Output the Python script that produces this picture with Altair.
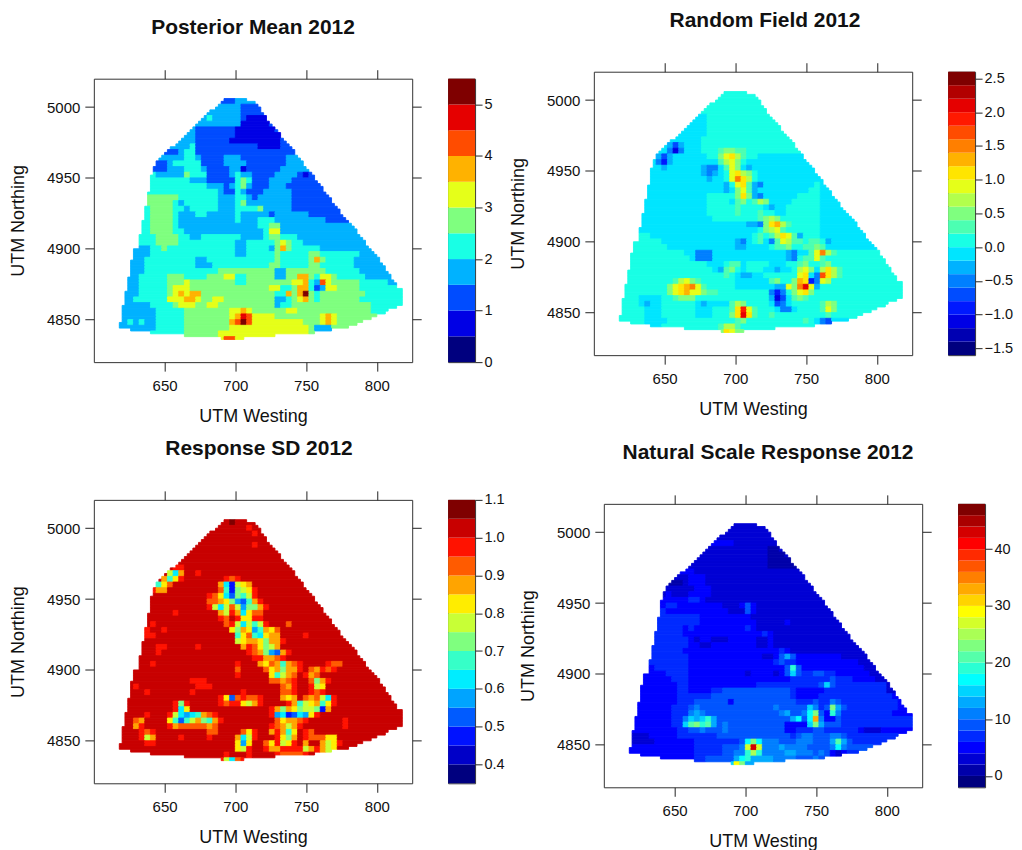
import altair as alt
import pandas as pd

alt.data_transformers.disable_max_rows()

# plot region cell sizes and origin, in UTM units
X0, Y0, FINE = 616, 5006, 2

# outline of the surveyed area: first and last fine column of each fine row
MASK_LEFT = [38,37,36,35,33,32,31,30,29,28,27,26,25,24,23,22,21,19,18,17,16,15,14,14,13,13,13,12,12,12,12,12,12,11,11,11,11,11,10,10,10,10,10,9,9,9,9,9,8,8,8,8,8,6,6,6,6,5,5,5,5,5,5,4,4,4,4,4,3,3,3,3,3,2,2,2,2,2,2,1,1,5,12,24,37]
MASK_RIGHT = [45,48,49,50,50,51,52,52,53,54,55,56,57,57,58,59,60,61,62,62,63,64,65,65,66,67,68,69,69,70,71,72,72,73,74,75,75,76,77,78,78,79,80,81,82,83,84,84,85,86,87,87,88,89,90,91,92,92,93,94,94,95,96,96,97,98,98,100,100,100,100,100,100,98,95,94,91,89,86,84,81,75,69,55,44]

# each row: "column:level" breaks along a coarse row
MEAN_ROWS = [
"0:2 21:3","0:3 22:2","0:3 22:2","0:3 16:4 17:3 22:2 23:1 27:2","0:3 22:1 27:2","0:3 14:2 21:1 28:2","0:3 14:2 21:1 29:2","0:3 14:2 20:1 29:2",
"0:3 13:4 14:2 25:1 29:2","0:2 11:3 12:4 14:2 31:2","0:3 12:4 14:3 15:2 19:3 22:2 30:3","0:2 9:3 10:4 15:2 19:3 23:2 30:3","0:2 9:3 12:4 15:3 16:2 20:3 22:1 23:2 29:3",
"0:4 7:3 12:5 13:4 16:2 20:3 21:4 22:3 24:2 28:3 32:2 33:1 34:2","0:4 13:3 16:2 21:4 22:5 23:4 24:2 27:3 31:2","0:4 16:3 19:2 20:3 21:4 22:5 23:3 24:2 27:3 30:2",
"0:4 18:3 19:2 21:4 22:3 23:2 26:3 31:2","0:5 11:4 18:3 21:4 23:3 24:2 25:3 31:2","0:5 10:4 11:3 12:4 18:3 21:4 22:5 23:3 31:2","0:4 6:5 10:4 12:3 13:4 18:3 21:4 25:5 26:3 31:2",
"0:4 6:5 10:4 11:3 14:4 16:3 21:4 22:3 27:2 28:3 34:2","0:4 6:5 10:4 11:3 21:4 22:3 25:4 28:3 37:2","0:4 6:5 10:4 11:3 25:4 27:5 29:3","0:4 6:5 10:4 12:3 26:4 27:6 29:3",
"0:4 7:5 11:4 13:3 15:4 22:3 26:4 27:5 29:4 32:3","0:4 7:5 11:4 21:3 23:4 28:5 29:6 30:5 31:4 33:3","0:3 6:4 8:5 9:4 21:3 23:4 27:3 28:5 29:7 30:5 31:4 36:3",
"0:3 6:4 21:3 23:4 27:4 28:5 29:4 34:5 36:4 43:3","0:3 5:4 14:3 16:4 28:5 29:4 34:5 35:7 36:5 37:4 42:3","0:3 5:4 14:3 17:4 27:5 29:4 34:5 36:4 42:3",
"0:3 5:4 18:5 28:3 30:5 37:4 43:3","0:3 4:4 9:5 12:4 16:5 19:6 21:4 23:5 28:3 30:5 32:7 34:5 35:4 36:6 38:5 39:4 44:3","0:3 4:4 9:5 12:6 13:5 21:4 23:5 31:6 33:7 34:4 35:3 36:8 37:6 38:5 43:4 48:3",
"0:3 4:4 9:5 10:6 13:5 27:6 29:4 31:5 32:7 34:4 35:2 36:3 37:6 39:5 43:4","0:3 4:4 9:5 10:6 11:7 12:6 13:7 15:5 28:4 30:7 31:5 32:7 33:a 34:5 35:4 36:5 44:4",
"0:3 3:4 9:6 12:7 14:6 15:5 17:6 19:5 28:3 30:4 31:5 32:6 33:7 34:5 35:4 36:5 43:4","0:3 6:4 10:5 11:6 14:5 16:6 18:5 28:3 29:4 31:5 45:4",
"0:3 7:4 12:5 20:6 22:7 23:6 24:5 30:6 32:5 45:4","0:3 7:4 12:5 20:6 21:7 22:9 23:8 24:6 25:6 28:5 36:6 37:7 38:6 39:5","0:3 2:4 3:3 4:4 5:3 7:4 12:5 20:7 21:8 22:a 23:8 24:6 33:5 36:6 37:7 38:6 39:5",
"0:3 7:4 12:5 20:6 34:5 35:3 38:5","0:4 12:5 18:6 27:6 34:5","0:6 19:8 21:6"]

FIELD_ROWS = [
"0:8","0:8","0:8","0:8","0:7 16:8","0:7 16:8","0:7 16:8","0:7 16:8","0:7 15:8","0:7 9:6 10:4 11:6 12:7 15:8",
"0:7 9:5 10:2 11:5 12:7 15:8 18:9 19:a 21:9 23:8","0:7 7:6 8:4 9:6 10:7 16:8 18:a 19:c 20:d 21:b 22:9 23:8 25:7","0:7 7:5 8:3 9:6 10:7 18:9 19:b 20:c 21:a 22:8 23:7",
"0:7 8:6 9:7 15:6 16:5 18:7 19:9 20:c 21:a 22:7 23:6 24:7","0:7 15:6 16:5 17:6 18:7 19:8 20:c 21:d 22:b 23:a 24:8 25:7","0:7 16:6 17:7 19:8 20:c 21:f 22:d 23:b 24:8 25:7",
"0:7 19:6 20:8 21:c 22:d 23:9 24:6 25:5 26:7 35:8 36:7","0:7 19:6 20:7 21:a 22:c 23:9 24:6 25:7 34:8 36:7","0:7 16:8 21:a 22:d 23:a 24:6 25:5 26:7 32:8 36:7",
"0:7 16:8 20:7 21:9 22:a 23:8 24:9 25:b 26:a 27:7 31:8 36:7","0:7 16:8 21:9 22:8 26:7 27:6 28:7 30:8 36:7","0:7 16:8 21:9 22:8 25:9 26:8 28:7 30:8 36:7",
"0:7 17:8 24:8 25:9 26:a 27:b 28:a 29:8 36:7","0:7 23:6 25:5 26:a 27:d 28:e 29:b 30:9 31:8 36:7","0:7 3:8 4:7 25:8 26:a 27:b 28:c 29:9 30:8 36:7",
"0:8 6:7 24:8 25:9 26:8 27:9 28:b 29:d 30:c 31:9 32:6 33:8 36:7","0:8 8:7 21:6 22:5 23:7 24:8 25:9 26:7 27:5 28:9 29:c 30:b 31:9 33:8 34:9 36:8 37:6 38:7",
"0:8 9:7 21:6 23:7 27:8 28:9 30:a 31:8 33:9 35:a 36:9 37:7","0:8 12:7 14:5 17:7 30:6 31:5 32:7 34:9 35:c 36:f 37:b 38:9 39:8","0:8 13:7 14:5 17:7 30:6 31:5 32:8 33:9 35:c 36:9 37:8",
"0:8 16:7 19:8 20:9 22:7 23:8 27:7 30:8 32:9 33:a 34:8 36:9 37:a 38:8","0:8 17:7 18:6 19:9 20:a 21:8 22:7 23:8 26:7 28:6 29:7 31:8 32:b 33:c 34:a 35:7 36:b 37:d 38:b 39:9 40:8",
"0:8 19:9 20:8 21:7 22:6 24:7 26:8 31:8 32:c 33:d 34:7 35:5 36:g 37:d 38:b 39:9 40:8","0:8 10:9 11:b 12:c 13:a 14:9 15:8 21:7 27:9 28:a 29:8 31:a 32:e 33:d 34:3 35:5 36:c 37:b 38:8",
"0:8 9:a 10:c 11:d 12:e 13:f 14:c 15:9 16:8 21:7 27:7 28:6 30:c 31:a 32:f 33:i 34:c 35:6 36:8","0:8 9:a 10:c 11:d 12:e 13:c 15:a 16:9 18:8 25:8 27:5 28:3 29:5 30:8 31:a 32:c 33:d 34:a 35:8",
"0:8 4:7 8:8 10:9 11:a 14:8 27:6 28:2 29:4 30:7 31:9 32:a 33:9 34:8","0:8 4:7 5:6 6:7 8:8 14:7 15:6 16:7 20:9 21:b 22:a 23:8 27:7 28:4 29:5 30:7 31:8 36:9 37:b 38:a 39:8",
"0:8 5:7 8:8 14:7 17:8 20:9 21:d 22:h 23:c 24:9 25:8 28:7 29:5 31:7 32:8 36:9 37:c 38:a 39:8","0:8 5:7 8:8 14:7 17:8 20:a 21:d 22:i 23:d 24:9 25:8 27:9 28:8 37:9 38:8",
"0:8 5:7 9:8 21:9 22:a 23:8 33:9 34:8 35:7 36:5 37:4 38:7","0:8 5:7 8:8 18:9 19:b 21:9 22:8 35:7 38:8","0:8 18:a 19:d 20:c 21:a"]

SD_ROWS = [
"0:d 20:e 21:d","0:d 23:c 24:d","0:d 24:c 25:d","0:d","0:d 24:c 25:d","0:d","0:d","0:d","0:d 10:c 12:d","0:d 9:8 10:5 11:a 12:d 14:c 15:d",
"0:d 8:a 9:6 10:9 11:c 12:d 19:c 20:b 21:c 22:d","0:d 6:c 7:6 8:9 9:b 10:d 18:a 19:5 20:2 21:8 22:9 23:a 24:d","0:d 6:c 7:a 9:d 18:b 19:6 20:2 21:7 22:8 23:9 24:c 25:d",
"0:d 16:c 17:b 18:9 19:5 20:3 21:7 22:6 23:8 24:c 25:d","0:d 16:b 18:a 19:9 20:7 21:4 22:3 23:6 24:a 25:c 26:d","0:d 16:c 17:8 18:5 19:8 20:b 21:8 22:4 23:7 25:a 26:c 27:d",
"0:d 10:c 11:d 18:a 19:8 20:c 21:a 22:5 23:9 24:b 26:d","0:d 18:c 19:b 20:d 21:c 22:9 24:c 26:d","0:d 6:c 7:d 19:b 20:c 21:8 22:5 23:8 24:6 25:8 26:c 27:d 30:b 31:d",
"0:d 5:c 6:d 8:c 9:d 20:9 21:7 22:a 23:9 24:4 25:6 26:a 27:9 28:b 29:d","0:d 5:c 7:d 21:6 22:9 23:b 24:6 25:5 26:9 27:a 29:d 33:c 34:d","0:d 21:8 22:9 23:a 25:9 26:7 27:a 29:c 30:d",
"0:d 7:c 9:d 14:c 15:d 22:a 23:c 24:b 25:9 26:7 27:8 28:a 29:d","0:d 7:c 8:d 23:c 24:b 25:a 26:7 27:4 28:3 29:a 30:c 31:d","0:d 24:c 26:a 28:b 29:c 30:d",
"0:d 6:c 7:d 21:c 22:d 25:a 26:9 27:b 28:a 29:6 30:a 31:b 32:c 33:d 37:c 38:b 40:d","0:d 21:b 22:d 26:b 27:9 28:a 29:7 30:a 32:c 33:d 34:b 35:a 36:c 37:b 38:c 39:d",
"0:d 21:c 22:d 27:9 28:6 29:8 30:a 31:b 32:d 33:c 34:a 35:b 36:d","0:d 13:c 16:d 27:b 29:a 30:b 31:c 32:d 34:b 35:7 36:a 37:c 38:d","0:d 3:c 4:d 14:c 17:d 29:b 30:a 31:c 32:d 34:c 35:8 36:9 37:d",
"0:d 5:c 6:d 13:c 14:d 22:c 23:d 29:b 31:c 32:d 34:c 35:b 36:c 37:d","0:d 18:c 19:9 20:3 21:b 22:c 23:b 25:c 26:d 29:a 30:9 31:a 32:d 33:b 34:a 35:b 36:8 37:5 38:c 39:d",
"0:d 10:c 11:7 12:c 13:d 18:c 19:b 20:c 22:9 23:8 24:a 25:c 26:d 30:c 31:a 32:6 33:8 34:9 35:a 36:6 37:9 38:c 39:d","0:d 10:c 11:5 12:9 13:d 27:c 28:a 29:7 30:a 31:9 32:7 33:8 35:7 36:2 37:a 38:d",
"0:d 5:c 6:d 9:c 10:8 11:5 12:4 13:5 14:6 15:a 16:b 17:c 18:d 27:c 28:4 29:5 30:2 31:3 32:5 33:4 34:9 35:c 36:d","0:d 3:b 4:a 5:d 9:9 10:6 11:3 12:6 13:8 14:a 15:7 16:6 17:a 18:c 19:d 28:b 29:9 30:a 32:b 33:c 34:d 40:c 41:d",
"0:d 3:a 4:c 5:d 9:c 10:a 11:b 15:b 16:a 17:b 18:d 27:c 28:b 29:a 30:8 31:a 32:c 33:d 40:c 41:d","0:d 4:c 5:b 6:c 7:d 16:b 18:d 22:b 23:9 24:c 25:d 27:a 28:c 29:a 30:6 31:9 32:d 33:c 34:b 35:d",
"0:d 4:c 5:8 6:a 7:d 11:c 12:d 16:c 17:d 21:a 22:5 23:8 24:c 25:d 28:c 29:9 30:7 31:a 32:d 33:c 34:b 36:b 37:9 39:d","0:d 5:c 7:d 21:9 22:4 23:9 24:d 26:b 27:9 28:c 29:8 30:9 31:c 32:d 33:a 34:d 36:a 37:8 38:9 39:c 40:d",
"0:d 21:9 22:8 23:c 24:d 26:c 27:a 29:c 32:c 33:8 34:a 35:c 36:a 37:8 38:9 39:d","0:d 19:c 20:d 23:c 24:d 28:c 29:b 33:c 34:d","0:d 18:c 19:8 20:5 21:b 22:c"]

NATURAL_ROWS = [
"0:2","0:2","0:2","0:3 19:2","0:2 25:1 27:2","0:2 25:1 28:2","0:2 25:1 29:2","0:2 25:1 30:2","0:3 12:2","0:2 11:3 14:2","0:1 10:2 11:3 14:2","0:2 12:3 15:2","0:2 7:3 8:2 11:3 15:2",
"0:3 5:4 6:3 11:4 13:3 14:2","0:3 7:4 9:3 17:2 20:3 21:5 22:3 23:2","0:4 7:3 18:2 21:5 22:3 23:2","0:4 13:3 22:2","0:4 13:3 23:2 28:3 29:2","0:4 10:3 11:4 12:3 21:4 22:3 23:2",
"0:4 10:3 21:3 24:4 25:3 26:2","0:4 11:3 12:2 13:3 15:2 18:3 23:2 25:3 26:2","0:4 11:3 13:2 15:3 23:2 25:3 26:2","0:4 10:3 27:4 28:3 29:2","0:4 11:3 24:2 26:3 27:5 28:7 29:5 30:3 38:2",
"0:4 11:3 25:3 26:4 27:5 28:4 30:3 41:2","0:3 5:4 11:3 27:3 28:5 29:a 30:5 31:3 42:2","0:3 7:4 11:3 21:2 22:3 26:2 27:3 28:5 29:8 30:5 31:4 33:5 35:4 37:3 43:2","0:3 8:4 11:3 27:3 29:4 33:4 36:5 37:4 40:3 44:2",
"0:3 9:4 11:3 23:4 29:4 34:5 35:8 36:5 37:4 46:2","0:3 9:4 11:3 15:4 17:5 29:4 30:3 35:4 46:2","0:3 9:4 13:4 15:5 29:4 30:3 34:4 47:3","0:3 9:4 12:5 18:3 19:5 29:5 30:4 32:4 33:5 34:4 36:6 37:5 38:4 48:3",
"0:3 8:4 11:5 12:6 13:5 26:6 27:5 31:5 32:8 33:6 34:4 35:5 36:c 37:7 38:5 39:4 48:3","0:3 8:4 11:6 12:7 13:6 14:5 27:6 28:7 29:5 31:6 32:9 33:c 34:5 35:3 36:a 37:6 38:4 47:3",
"0:3 8:4 10:6 11:8 12:7 13:8 14:a 15:7 16:5 28:5 29:7 30:9 31:5 32:9 33:h 34:6 35:3 37:5 38:4","0:3 8:4 10:8 11:b 12:c 13:a 14:b 15:7 16:5 17:6 18:5 28:3 30:3 32:8 33:c 34:7 35:5 38:4",
"0:3 9:4 11:5 13:6 14:5 17:6 18:5 28:3 30:4 33:5 35:4 41:3 42:2 45:3","0:2 4:3 9:4 16:5 28:5 29:4 30:5 31:6 33:5 36:6 38:5 39:4","0:2 5:3 12:4 20:5 21:9 22:c 23:9 24:6 27:5 30:6 33:5 36:7 37:b 38:7 39:5 40:4",
"0:3 12:4 17:5 20:6 21:e 22:m 23:e 24:6 26:6 27:7 28:6 32:5 36:6 37:9 38:6 39:5","0:3 12:4 17:5 19:6 21:a 22:d 23:a 24:6 28:7 30:6 33:5 34:6 35:5 36:3 37:2 38:3 39:4","0:3 12:4 14:5 19:7 20:9 21:a 22:7 26:6 30:5 33:6 34:5 36:4","0:6 18:8 19:f 20:c 21:7"]

MEAN_COLORS = ["#00007F","#0000E5","#004CFF","#00B2FF","#19FFE5","#7FFF7F","#E5FF19","#FFB200","#FF4C00","#E50000","#7F0000"]
FIELD_COLORS = ["#00007F","#0000B2","#0000E5","#0019FF","#004CFF","#007FFF","#00B2FF","#00E5FF","#19FFE5","#4CFFB2","#7FFF7F","#B2FF4C","#E5FF19","#FFE500","#FFB200","#FF7F00","#FF4C00","#FF1900","#E50000","#B20000","#7F0000"]
SD_COLORS = ["#00007F","#0000C8","#0012FF","#005BFF","#00A4FF","#00EDFF","#36FFC8","#7FFF7F","#C8FF36","#FFED00","#FFA400","#FF5B00","#FF1200","#C80000","#7F0000"]
NATURAL_COLORS = ["#00007F","#0000AA","#0000D4","#0000FF","#002AFF","#0055FF","#007FFF","#00AAFF","#00D4FF","#00FFFF","#2AFFD4","#55FFAA","#7FFF7F","#AAFF55","#D4FF2A","#FFFF00","#FFD400","#FFAA00","#FF7F00","#FF5500","#FF2A00","#FF0000","#D40000","#AA0000","#7F0000"]

MEAN_BREAKS = [0,0.5,1,1.5,2,2.5,3,3.5,4,4.5,5,5.5]
FIELD_BREAKS = [-1.6,-1.4,-1.2,-1,-0.8,-0.6,-0.4,-0.2,0,0.2,0.4,0.6,0.8,1,1.2,1.4,1.6,1.8,2,2.2,2.4,2.6]
SD_BREAKS = [0.35,0.4,0.45,0.5,0.55,0.6,0.65,0.7,0.75,0.8,0.85,0.9,0.95,1,1.05,1.1]
NATURAL_BREAKS = [-2,0,2,4,6,8,10,12,14,16,18,20,22,24,26,28,30,32,34,36,38,40,42,44,46,48]

MEAN_TICKS = [0,1,2,3,4,5]
FIELD_TICKS = [-1.5,-1,-0.5,0,0.5,1,1.5,2,2.5]
SD_TICKS = [0.4,0.5,0.6,0.7,0.8,0.9,1,1.1]
NATURAL_TICKS = [0,10,20,30,40]

X_TICKS = [650,700,750,800]
Y_TICKS = [4850,4900,4950,5000]
X_DOMAIN = [600,825]
Y_DOMAIN = [4820,5020]

FONT = "Liberation Sans"
W, H, BAR_W = 319, 284, 27
TITLE_OFFSET = 31


def runs(rows, colors):
    """Turn break strings plus the outline into rectangles, one row of cells at a time."""
    out = []
    for j, (left, right) in enumerate(zip(MASK_LEFT, MASK_RIGHT)):
        row = rows[min(j // 2, len(rows) - 1)]
        breaks = [(int(t.split(":")[0]), int(t.split(":")[1], 36)) for t in row.split()]
        levels = []
        for k in range(left, right + 1):
            col = k // 2
            lev = breaks[0][1]
            for c, l in breaks:
                if c <= col:
                    lev = l
            levels.append(lev)
        start = 0
        for n in range(1, len(levels) + 1):
            if n == len(levels) or levels[n] != levels[start]:
                out.append(dict(x0=X0 + FINE * (left + start), x1=X0 + FINE * (left + n),
                                y0=Y0 - FINE * j, y1=Y0 - FINE * (j + 1), fill=colors[levels[start]]))
                start = n
    return pd.DataFrame(out)


def panel(rows, colors, title, dx):
    xs = alt.Scale(domain=X_DOMAIN, nice=False, zero=False)
    ys = alt.Scale(domain=Y_DOMAIN, nice=False, zero=False)
    df = runs(rows, colors)
    cells = alt.Chart(df).mark_rect(strokeWidth=0.9).encode(
        x=alt.X("x0:Q", scale=xs, axis=alt.Axis(values=X_TICKS, title="UTM Westing", orient="bottom", format="d", titlePadding=14, labelPadding=7)),
        x2="x1:Q",
        y=alt.Y("y0:Q", scale=ys, axis=alt.Axis(values=Y_TICKS, title="UTM Northing", orient="left", format="d", titlePadding=19)),
        y2="y1:Q",
        color=alt.Color("fill:N", scale=None),
        stroke=alt.Stroke("fill:N", scale=None),
    )
    frame = alt.Chart(df.head(1)).mark_point(opacity=0).encode(
        x=alt.X("x0:Q", scale=xs, axis=alt.Axis(values=X_TICKS, title=None, orient="top", labels=False)),
        y=alt.Y("y0:Q", scale=ys, axis=alt.Axis(values=Y_TICKS, title=None, orient="right", labels=False)),
    )
    return alt.layer(cells, frame).resolve_axis(x="independent", y="independent").properties(
        width=W, height=H,
        title=alt.TitleParams(title, dx=dx, offset=TITLE_OFFSET),
    )


def colorbar(breaks, colors, ticks, fmt):
    df = pd.DataFrame({"lo": breaks[:-1], "hi": breaks[1:], "fill": colors})
    return alt.Chart(df).mark_rect().encode(
        x=alt.value(0), x2=alt.value(BAR_W),
        y=alt.Y("lo:Q", scale=alt.Scale(domain=[breaks[0], breaks[-1]], nice=False, zero=False),
                axis=alt.Axis(values=ticks, title=None, orient="right", format=fmt, tickSize=7, labelFontSize=14.5, labelPadding=2)),
        y2="hi:Q",
        color=alt.Color("fill:N", scale=None),
    ).properties(width=BAR_W, height=H)


def spacer(w, h):
    return alt.Chart(pd.DataFrame({"a": [0]})).mark_point(opacity=0, size=1).encode(
        x=alt.value(0), y=alt.value(0)
    ).properties(width=w, height=h, view=alt.ViewConfig(stroke="transparent"))


def pair(p, b):
    return alt.hconcat(p, b, spacing=25)


tl = pair(panel(MEAN_ROWS, MEAN_COLORS, "Posterior Mean 2012", 0), colorbar(MEAN_BREAKS, MEAN_COLORS, MEAN_TICKS, "d"))
tr = pair(panel(FIELD_ROWS, FIELD_COLORS, "Random Field 2012", 12), colorbar(FIELD_BREAKS, FIELD_COLORS, FIELD_TICKS, ".1f"))
bl = pair(panel(SD_ROWS, SD_COLORS, "Response SD 2012", 6), colorbar(SD_BREAKS, SD_COLORS, SD_TICKS, ".1f"))
br = pair(panel(NATURAL_ROWS, NATURAL_COLORS, "Natural Scale Response 2012", 5), colorbar(NATURAL_BREAKS, NATURAL_COLORS, NATURAL_TICKS, "d"))

col1 = alt.vconcat(spacer(1, 8), alt.vconcat(tl, bl, spacing=12), spacing=0)
col2 = alt.vconcat(
    spacer(1, 1),
    alt.vconcat(alt.hconcat(spacer(1, 1), tr, spacing=0), alt.hconcat(spacer(1, 1), br, spacing=10), spacing=23),
    spacing=0,
)

chart = alt.hconcat(col1, col2, spacing=1, padding={"left": 1, "top": -2, "right": 0, "bottom": 0}).configure_axis(
    grid=False, domain=False, tickSize=9, tickColor="#222222", tickWidth=1,
    labelFont=FONT, labelFontSize=15, labelColor="#111111", labelPadding=5,
    titleFont=FONT, titleFontSize=18, titleFontWeight="normal", titleColor="#111111",
).configure_view(stroke="#333333", strokeWidth=1).configure_title(
    font=FONT, fontSize=21, fontWeight="bold", color="#111111", anchor="middle",
)

chart.save("out.html", embed_options={"renderer": "svg", "actions": False})
